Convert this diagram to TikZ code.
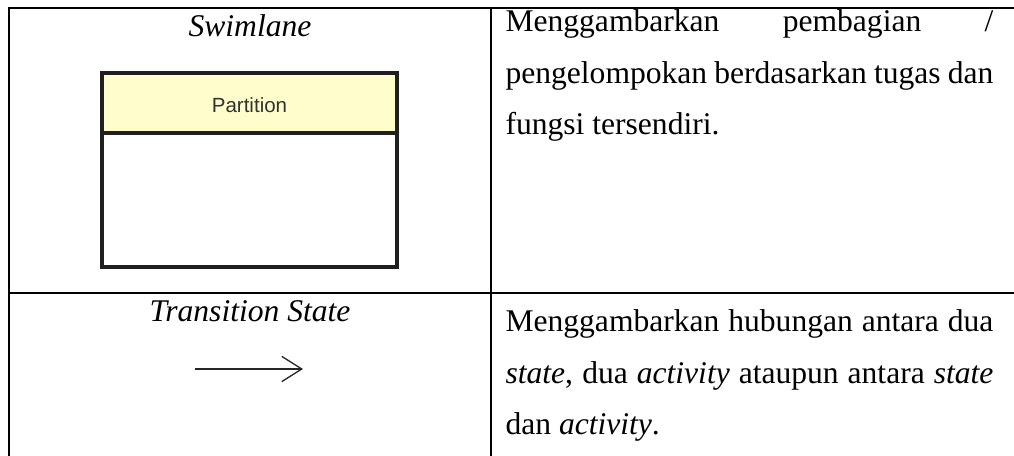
\documentclass[tikz,border=0pt]{standalone}
\usepackage{fontspec}
\setmainfont{Liberation Serif}
\newfontfamily\uifont{Liberation Sans}
\usetikzlibrary{arrows.meta}
\definecolor{hdrfill}{HTML}{FEFDCB}
\definecolor{uitext}{HTML}{333333}
\tikzset{
  gridline/.style={line width=0.9pt, black},
  bodytext/.style={anchor=base west, inner sep=0pt, font=\fontsize{12}{19.6}\selectfont, align=left},
  celltitle/.style={anchor=base, inner sep=0pt, font=\fontsize{12}{14}\selectfont\itshape},
  lanebox/.style={draw=black!88, line width=1.25pt},
  lanehdr/.style={draw=black!88, line width=1.25pt, fill=hdrfill},
  lanelabel/.style={inner sep=0pt, font=\uifont\fontsize{7.8}{9}\selectfont, text=uitext},
  transarrow/.style={draw=black!85, line width=0.5pt, -{Straight Barb[length=7.6pt,width=9.6pt]}}
}
\newlength{\celltw}
\setlength{\celltw}{185.4pt}
\begin{document}
\begin{tikzpicture}[x=0.38pt,y=-0.38pt]
\useasboundingbox (0,0) rectangle (1014,456);
% table grid
\coordinate (tl) at (8.7,7.7);
\coordinate (tr) at (1016,7.7);
\coordinate (ml) at (8.7,293);
\coordinate (mr) at (1016,293);
\coordinate (bl) at (8.7,458);
\coordinate (ct) at (491,7.7);
\coordinate (cb) at (491,458);
\draw[gridline] (tr) -- (tl) -- (bl);
\draw[gridline] (ml) -- (mr);
\draw[gridline] (ct) -- (cb);
% row 1
\node[celltitle] (t1) at (250,37) {Swimlane};
\draw[lanebox, fill=white] (102,133) rectangle (397,267);
\draw[lanehdr] (102,73) rectangle (397,133);
\node[lanelabel] (plabel) at (249.5,105.5) {Partition};
\node[bodytext] (d1) at (505,135) {\makebox[\celltw][s]{Menggambarkan pembagian /}\\
\makebox[\celltw][s]{pengelompokan berdasarkan tugas dan}\\
fungsi tersendiri.};
% row 2
\node[celltitle] (t2) at (250,322) {Transition State};
\coordinate (a1) at (195,369);
\coordinate (a2) at (303,369);
\draw[transarrow] (a1) -- (a2);
\node[bodytext] (d2) at (505,435) {\makebox[\celltw][s]{Menggambarkan hubungan antara dua}\\
\makebox[\celltw][s]{\textit{state}, dua \textit{activity} ataupun antara \textit{state}}\\
dan \textit{activity}.};
\end{tikzpicture}
\end{document}
